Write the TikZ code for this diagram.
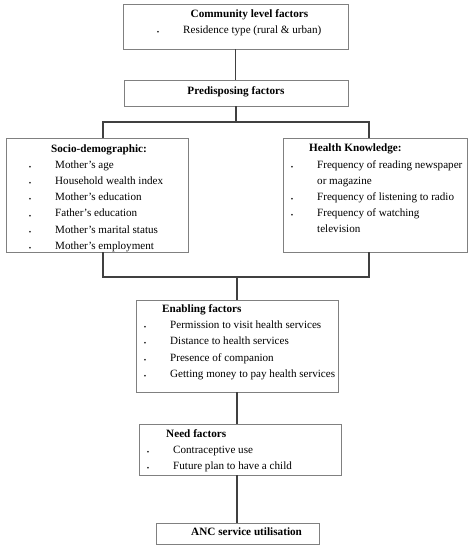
\documentclass[tikz,border=0pt]{standalone}
\usepackage{fontspec}
\setmainfont{Liberation Serif}
\definecolor{boxgray}{HTML}{808080}
\definecolor{linegray}{HTML}{404040}
\tikzset{
  box/.style={draw=boxgray, line width=0.9pt, rectangle, inner sep=0pt},
  conn/.style={draw=linegray, line width=1.2pt},
  ttl/.style={font=\fontsize{11.2}{14}\selectfont\bfseries, inner sep=0pt},
  itm/.style={anchor=base west, inner sep=0pt},
  bul/.style={font=\fontsize{7}{7}\selectfont, anchor=base, inner sep=0pt, yshift=-1.2pt}
}
\begin{document}
\begin{tikzpicture}[x=1pt,y=-1pt,font=\fontsize{11.1}{14}\selectfont]
\useasboundingbox (0,0) rectangle (473,550);
% boxes
\node[box, minimum width=225pt, minimum height=45pt] (comm) at (235.5,26.5) {};
\node[box, minimum width=224pt, minimum height=26pt] (pre) at (236,93) {};
\node[box, minimum width=182pt, minimum height=114pt] (socio) at (97,195) {};
\node[box, minimum width=184pt, minimum height=114pt] (health) at (375,195) {};
\node[box, minimum width=202pt, minimum height=92pt] (enab) at (237,346) {};
\node[box, minimum width=202pt, minimum height=51pt] (need) at (240,449.5) {};
\node[box, minimum width=163pt, minimum height=21pt] (anc) at (237.5,533.5) {};
% connectors
\coordinate (tl) at (103,122);
\coordinate (tr) at (369,122);
\coordinate (bl) at (103,277);
\coordinate (br) at (369,277);
\coordinate (bm) at (237,277);
\draw[conn] (comm.south) -- (comm.south |- pre.north);
\draw[conn] (pre.south) -- (pre.south |- tl);
\draw[conn] (tl |- socio.north) -- (tl) -- (tr) -- (tr |- health.north);
\draw[conn] (bl |- socio.south) -- (bl) -- (br) -- (br |- health.south);
\draw[conn] (bm) -- (bm |- enab.north);
\draw[conn] (enab.south) -- (enab.south |- need.north);
\draw[conn] (enab.south |- need.south) -- (enab.south |- anc.north);
% community
\node[ttl, anchor=base] (t1) at (249.5,17) {Community level factors};
\node[bul] (b11) at (158,33) {•};
\node[itm] (i11) at (183,33) {Residence type (rural \& urban)};
% predisposing
\node[ttl, anchor=base] (t2) at (236,94) {Predisposing factors};
% socio
\node[ttl, anchor=base] (t3) at (99,152) {Socio-demographic:};
\foreach \yy/\tx [count=\k] in {168/Mother’s age, 184.5/Household wealth index, 200.7/Mother’s education, 216.9/Father’s education, 233.1/Mother’s marital status, 249.3/Mother’s employment}{
  \node[bul] (b3\k) at (30,\yy) {•};
  \node[itm] (i3\k) at (55,\yy) {\tx};
}
% health
\node[ttl, anchor=base west] (t4) at (309,151) {Health Knowledge:};
\node[bul] (b41) at (292,168) {•};
\node[itm] (i41) at (317,168) {Frequency of reading newspaper};
\node[itm] (i42) at (317,184.2) {or magazine};
\node[bul] (b43) at (292,200.4) {•};
\node[itm] (i43) at (317,200.4) {Frequency of listening to radio};
\node[bul] (b44) at (292,216.6) {•};
\node[itm] (i44) at (317,216.6) {Frequency of watching};
\node[itm] (i45) at (317,232.8) {television};
% enabling
\node[ttl, anchor=base west] (t5) at (162,312) {Enabling factors};
\foreach \yy/\tx [count=\k] in {328/Permission to visit health services, 344.5/Distance to health services, 361/Presence of companion, 377.5/Getting money to pay health services}{
  \node[bul] (b5\k) at (145,\yy) {•};
  \node[itm] (i5\k) at (170,\yy) {\tx};
}
% need
\node[ttl, anchor=base west] (t6) at (166,437) {Need factors};
\node[bul] (b61) at (148,453) {•};
\node[itm] (i61) at (173,453) {Contraceptive use};
\node[bul] (b62) at (148,469) {•};
\node[itm] (i62) at (173,469) {Future plan to have a child};
% anc
\node[ttl, anchor=base west] (t7) at (191,535) {ANC service utilisation};
\end{tikzpicture}
\end{document}
